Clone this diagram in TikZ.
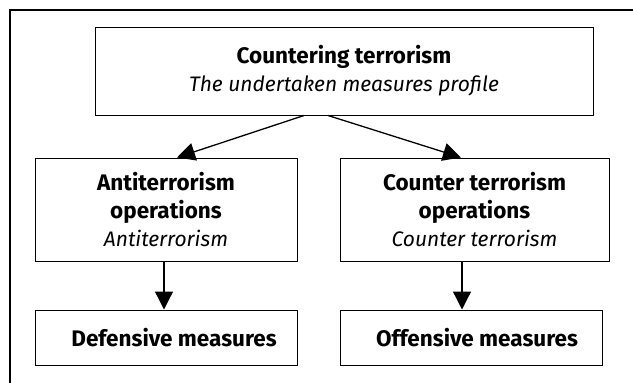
\documentclass[tikz,border=0pt]{standalone}
\usepackage{fontspec}
\setmainfont{Fira Sans}
\usetikzlibrary{arrows.meta}
\newcommand{\hd}[1]{{\fontsize{22.5}{28}\selectfont\bfseries #1}}
\tikzset{
  box/.style={shape=rectangle,draw=black,line width=1pt,align=center,
    font=\fontsize{21}{28}\selectfont,inner sep=0pt},
  arr/.style={line width=1.3pt,-{Triangle[length=18pt,width=18pt]}}
}
\begin{document}
\begin{tikzpicture}[x=1pt,y=-1pt]
            \useasboundingbox (0,0) rectangle (633,383);
            \draw[line width=1.2pt] (10,383) -- (10,10) -- (633,10);

            \node[box,minimum width=498pt,minimum height=88pt] (top) at (344,71)
                {\hd{Countering terrorism}\\\textit{The undertaken measures profile}};
            \node[box,minimum width=262pt,minimum height=103pt] (anti) at (166,209.5)
                {\hd{Antiterrorism}\\\hd{operations}\\\textit{Antiterrorism}};
            \node[box,minimum width=269pt,minimum height=103pt] (counter) at (474.5,209.5)
                {\hd{Counter terrorism}\\\hd{operations}\\\textit{Counter terrorism}};
            \node[box,minimum width=262pt,minimum height=55pt] (def) at (166,337.5)
                {\hspace*{16pt}\hd{Defensive measures}};
            \node[box,minimum width=262pt,minimum height=55pt] (off) at (471,337.5)
                {\hspace*{12pt}\hd{Offensive measures}};

            %Ora le frecce
            \draw[arr] ([xshift=-40pt]top.south) -- ([xshift=11pt]anti.north);
            \draw[arr] ([xshift=-16pt]top.south) -- ([xshift=-13.5pt]counter.north);
            \draw[arr] ([xshift=-2pt]anti.south) -- ([xshift=-2pt]def.north);
            \draw[arr] ([xshift=-12.5pt]counter.south) -- ([xshift=-12.5pt]counter.south |- off.north);
        \end{tikzpicture}
\end{document}
